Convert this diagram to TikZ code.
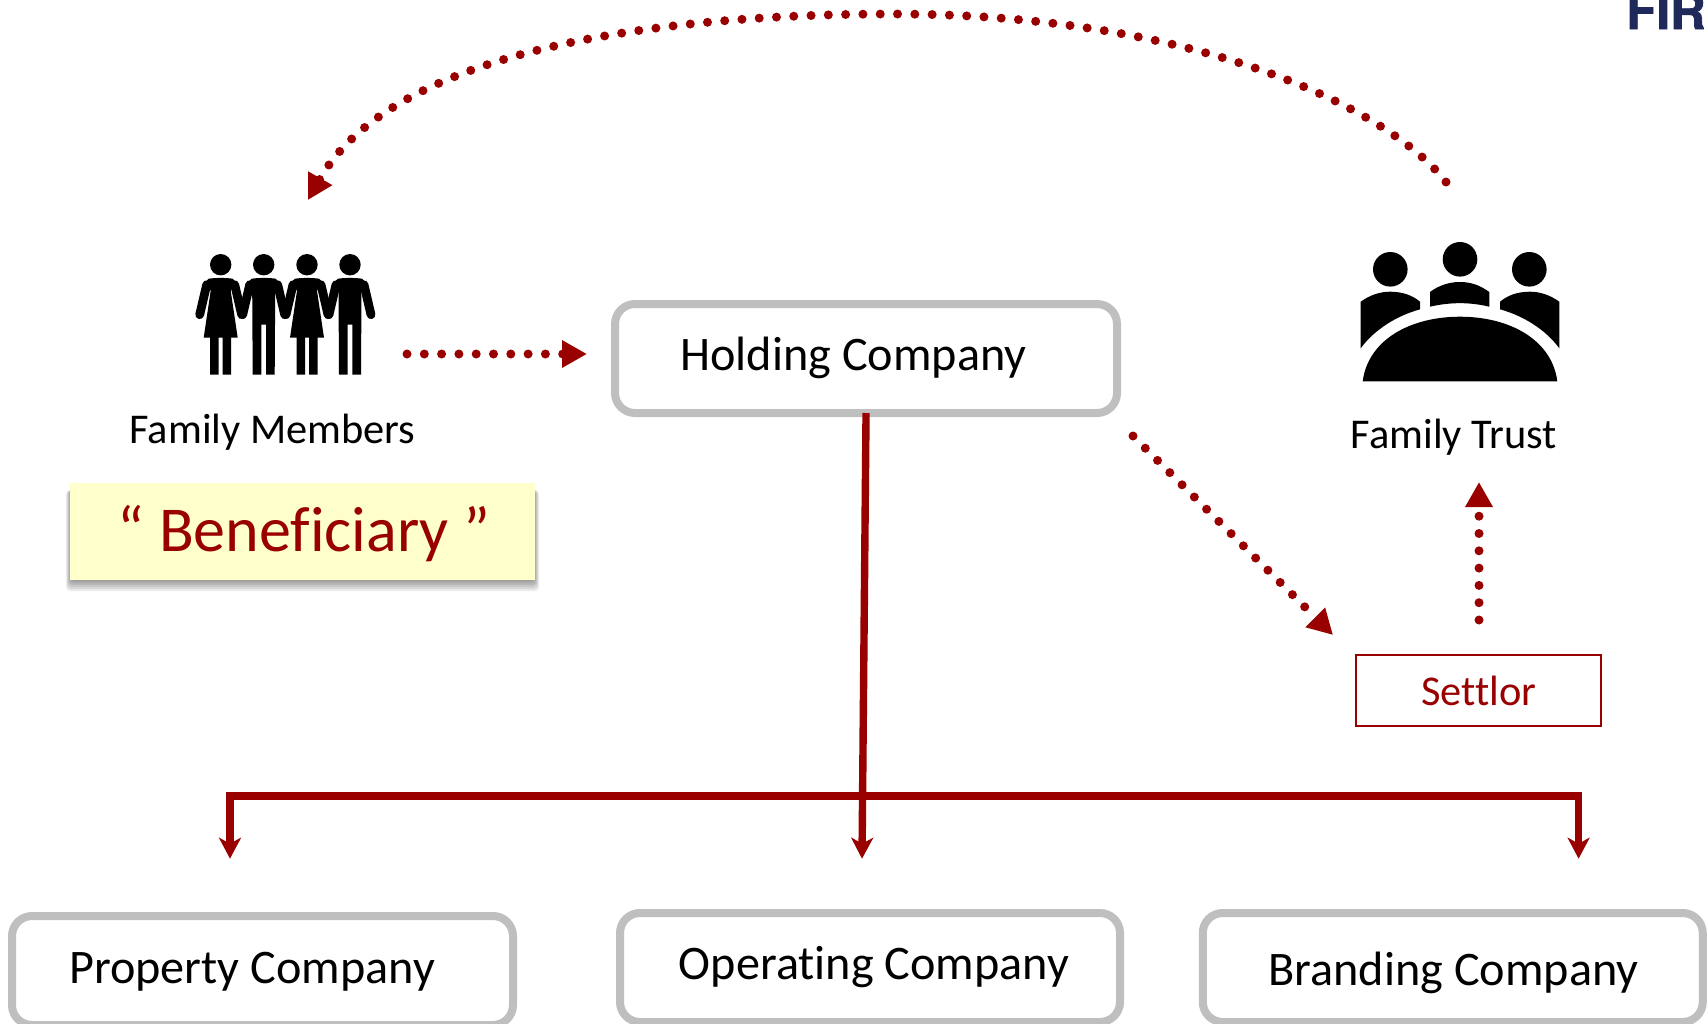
\documentclass[tikz,border=0pt]{standalone}
\usepackage{fontspec}
\setmainfont[Ligatures=CommonOff]{Carlito}
\newfontfamily\logofont[BoldFeatures={FakeBold=1.5}]{TeX Gyre Heros}
\usetikzlibrary{arrows.meta}
\definecolor{darkred}{HTML}{990000}
\definecolor{boxgray}{HTML}{BFBFBF}
\definecolor{notefill}{HTML}{FFFFCC}
\definecolor{logoblue}{HTML}{1F2A5A}
\tikzset{
	compbox/.style={draw=boxgray,line width=4pt,rounded corners=10pt,fill=white,inner sep=0pt,minimum width=250.5pt,minimum height=54.5pt},
	comptext/.style={inner sep=0pt,font=\fontsize{24.1}{28}\selectfont},
	famtext/.style={inner sep=0pt,font=\fontsize{21.2}{25}\selectfont},
	dotline/.style={draw=darkred,line width=4.5pt,line cap=round,dash pattern=on 0pt off 8.65pt,-{Triangle[length=12.5pt,width=13pt]}},
	mainline/.style={draw=darkred,line width=3.7pt},
	maintip/.tip={Stealth[length=10.5pt,width=11pt,inset=3pt]},
	limb/.style={draw=black,line width=4.4pt,line cap=round},
	man/.pic={
		\fill (0,0) circle (10.7);
		\fill (-12,14) .. controls (-6,13) and (6,13) .. (12,14) -- (16,18) -- (11.5,26) -- (11,110) -- (2.3,110) -- (2.3,60) -- (-2.3,60) -- (-2.3,110) -- (-11,110) -- (-11.5,26) -- (-16,18) -- cycle;
		\draw[limb] (14,20) -- (21,50);
		\draw[limb] (-14,20) -- (-21,50);
	},
	woman/.pic={
		\fill (0,0) circle (10.7);
		\fill (-12,14) .. controls (-6,13) and (6,13) .. (12,14) -- (16,18) -- (10,26) -- (17,73) -- (10.5,73) -- (10.5,110) -- (2,110) -- (2,73) -- (-2,73) -- (-2,110) -- (-10.5,110) -- (-10.5,73) -- (-17,73) -- (-10,26) -- (-16,18) -- cycle;
		\draw[limb] (14,20) -- (21,50);
		\draw[limb] (-14,20) -- (-21,50);
	},
}
\begin{document}
\begin{tikzpicture}[x=0.5pt,y=-0.5pt]
	\clip (0,0) rectangle (1707,1023);
	\pic at (220.7,264.7) {woman};
	\pic at (263.7,264.7) {man};
	\pic at (307,264.7) {woman};
	\pic at (350,264.7) {man};
	\fill (1390.3,269.3) circle (17.3) (1460,259.3) circle (17.3) (1529.3,269.3) circle (17.3);
	\fill (1362.7,381.3) .. controls (1368,340) and (1410,316.7) .. (1460,316.7) .. controls (1510,316.7) and (1552,340) .. (1557.3,381.3) -- cycle;
	\fill (1430,306.7) -- (1430,292) .. controls (1438,286) and (1448,282) .. (1460,282) .. controls (1472,282) and (1481,286) .. (1489.3,292) -- (1489.3,306.7) .. controls (1470,302) and (1450,302) .. (1430,306.7) -- cycle;
	\fill (1360.7,348.3) -- (1360.7,301.7) .. controls (1370,295) and (1380,291.7) .. (1390,291.7) .. controls (1402,291.7) and (1412,295) .. (1420,301.7) -- (1420,309.3) .. controls (1396,316) and (1374,330) .. (1360.7,348.3) -- cycle;
	\fill (1559.3,348.3) -- (1559.3,301.7) .. controls (1550,295) and (1540,291.7) .. (1530,291.7) .. controls (1518,291.7) and (1508,295) .. (1500,301.7) -- (1500,309.3) .. controls (1524,316) and (1546,330) .. (1559.3,348.3) -- cycle;

	\node[compbox,minimum width=251pt] (hold) at (866,358.5) {};
	\node[comptext] (holdtext) at (853.5,357.5) {Holding Company};
	\node[compbox] (prop) at (262.5,970.5) {};
	\node[comptext] (proptext) at (252,971.5) {Property Company};
	\node[compbox,minimum width=250pt] (oper) at (870,967.5) {};
	\node[comptext] (opertext) at (874,967) {Operating Company};
	\node[compbox,minimum width=250pt] (brand) at (1452.75,967.5) {};
	\node[comptext] (brandtext) at (1453.5,972.5) {Branding Company};
	\node[famtext] (famtext) at (272.5,432) {Family Members};
	\node[famtext] (trusttext) at (1454,437.5) {Family Trust};
	\foreach \shad in {1,...,6}
		\fill[black,opacity=.08,rounded corners=2pt] (71-\shad*.8,490) rectangle (534+\shad*.8,579+2*\shad);
	\node[minimum width=232.5pt,minimum height=48.5pt,inner sep=0pt,fill=notefill] (bene) at (302.5,531.5) {};
	\node[inner sep=0pt,text=darkred,font=\fontsize{32}{38}\selectfont] (benetext) at (304,534) {“ Beneficiary ”};
	\node[draw=darkred,line width=1pt,minimum width=122.5pt,minimum height=35.5pt,inner sep=0pt] (settlor) at (1478.5,690.5) {};
	\node[inner sep=0pt,text=darkred,font=\fontsize{21.2}{25}\selectfont] (settlortext) at (1479,691) {Settlor};
	\node[inner sep=0pt,anchor=base east,text=logoblue,font=\logofont\bfseries\fontsize{24.6}{30}\selectfont] (logo) at (1706,29) {FIR};

	\coordinate (famout) at (407,354);
	\coordinate (holdin) at (587,354);
	\coordinate (holdout) at (1133,436);
	\coordinate (settlorin) at (1333,635);
	\coordinate (settlorout) at (1479,620);
	\coordinate (trustin) at (1479,482);
	\coordinate (trustout) at (1446,182);
	\coordinate (arctop) at (893,14);
	\coordinate (famin) at (308,200);
	\coordinate (barl) at (230,796);
	\coordinate (barr) at (1578.6,796);
	\coordinate (tipl) at (230,858.7);
	\coordinate (tipr) at (1578.6,858.7);
	\coordinate (tipm) at (862,858.7);

	\path
	(famout) edge [dotline] (holdin)
	(holdout) edge [dotline] (settlorin)
	(settlorout) edge [dotline] (trustin);
	\draw[dotline] (trustout) .. controls (1390,110) and (1200,14) .. (arctop) .. controls (640,14) and (390,55) .. (famin);
	\draw[mainline,maintip-maintip] (tipl) -- (barl) -- (barr) -- (tipr);
	\draw[mainline,-maintip,shorten <=-2pt] (hold.south) -- (tipm);
\end{tikzpicture}
\end{document}
